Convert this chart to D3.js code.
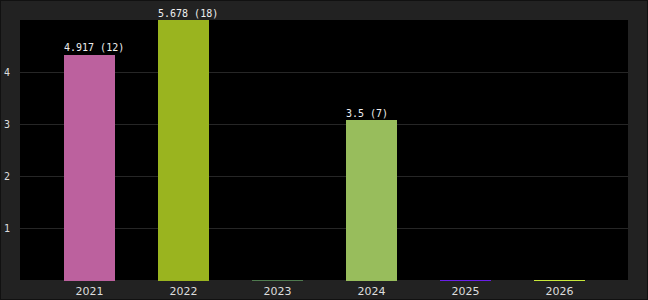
<!DOCTYPE html>
<html>
<head>
<meta charset="utf-8">
<script src="https://cdn.jsdelivr.net/npm/d3@7"></script>
<style>
  html, body { margin: 0; padding: 0; background: #222; }
  svg { display: block; }
</style>
</head>
<body>
<svg id="chart" width="648" height="300"></svg>
<script>
// data
const years  = ["2021", "2022", "2023", "2024", "2025", "2026"];
const values = [4.917, 5.678, 0.02, 3.5, 0.02, 0.02];
const counts = [12, 18, 0, 7, 0, 0];
const showLabel = [true, true, false, true, false, false];
const colors = ["#bc619e", "#9ab41f", "#4f7a4f", "#98bd5c", "#6a1ee8", "#c8e83a"];
const yTicks = [1, 2, 3, 4];

const W = 648, H = 300;
const plot = { left: 20, top: 20, right: 628, bottom: 280 };

const svg = d3.select("#chart");

// frame
svg.append("rect").attr("x", 0.5).attr("y", 0.5).attr("width", W - 1).attr("height", H - 1)
    .attr("fill", "#222").attr("stroke", "#111");
svg.append("rect")
    .attr("x", plot.left).attr("y", plot.top)
    .attr("width", plot.right - plot.left).attr("height", plot.bottom - plot.top)
    .attr("fill", "#000");

const x = d3.scaleBand().domain(years).range([64, 585]).paddingInner(1 - 51 / 94).paddingOuter(0);
// bars scaled to their max, axis grid drawn on 0..5
const yBar = d3.scaleLinear().domain([0, d3.max(values)]).range([plot.bottom + 1, plot.top]);
const yAxisScale = d3.scaleLinear().domain([0, 5]).range([plot.bottom, plot.top]);

// grid
svg.append("g").attr("transform", `translate(${plot.left},0)`)
    .call(d3.axisLeft(yAxisScale).tickValues(yTicks).tickSize(-(plot.right - plot.left)).tickFormat(""))
    .call(g => g.select(".domain").remove())
    .call(g => g.selectAll("line").attr("stroke", "#262626").attr("shape-rendering", "crispEdges"));

// y labels
svg.append("g").selectAll("text").data(yTicks).join("text")
    .attr("x", 7).attr("y", d => Math.round(yAxisScale(d)) + 4)
    .attr("text-anchor", "middle")
    .attr("fill", "#ddd").attr("font-family", "DejaVu Sans Mono, monospace").attr("font-size", 10)
    .text(d => d);

// bars
const data = years.map((y, i) => ({ year: y, value: values[i], count: counts[i], color: colors[i], label: showLabel[i] }));

svg.append("g").selectAll("rect").data(data).join("rect")
    .attr("x", d => x(d.year)).attr("width", x.bandwidth())
    .attr("y", d => yBar(d.value)).attr("height", d => Math.max(1, yBar(0) - yBar(d.value)))
    .attr("fill", d => d.color).attr("shape-rendering", "crispEdges");

// bar labels
svg.append("g").selectAll("text").data(data.filter(d => d.label)).join("text")
    .attr("x", d => x(d.year)).attr("y", d => yBar(d.value) - 3.5)
    .attr("fill", "#eee").attr("font-family", "DejaVu Sans Mono, monospace").attr("font-size", 10)
    .text(d => `${d.value} (${d.count})`);

// x labels
svg.append("g").attr("transform", `translate(0,${plot.bottom})`)
    .call(d3.axisBottom(x).tickSize(0).tickPadding(7))
    .call(g => g.select(".domain").remove())
    .call(g => g.selectAll("text").attr("fill", "#ddd").attr("font-family", "DejaVu Sans, sans-serif").attr("font-size", 11).attr("dy", "0.71em"));
</script>
</body>
</html>
